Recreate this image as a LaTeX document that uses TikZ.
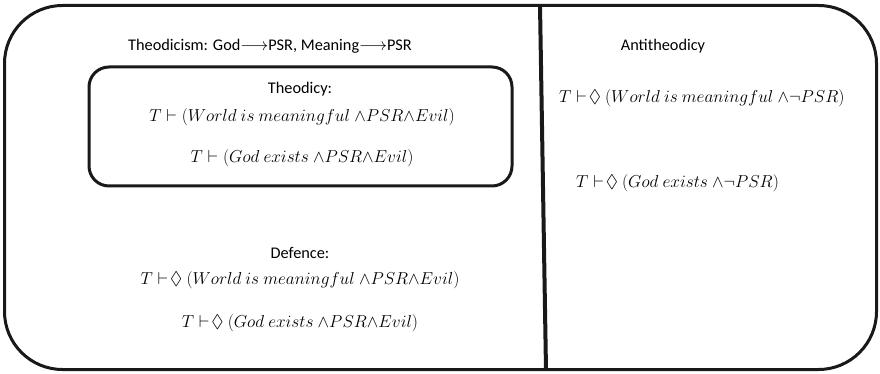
\documentclass[tikz,border=0pt]{standalone}
\usepackage{amssymb}
\usepackage{fontspec}
\setmainfont{Carlito}
\begin{document}
\begin{tikzpicture}[x=1pt,y=-1pt,
  lbl/.style={font=\fontsize{16.3}{18}\selectfont, inner sep=0pt, anchor=center},
  frm/.style={font=\fontsize{18.3}{20}\selectfont, inner sep=0pt, anchor=center},
  frmL/.style={font=\fontsize{18.3}{20}\selectfont, inner sep=0pt, anchor=west},
  boxline/.style={line width=3pt, draw=black!90}]
\useasboundingbox (0,0) rectangle (880,374);
\draw[boxline, rounded corners=58pt] (4.5,5.5) rectangle (876.5,369.5);
\draw[boxline, rounded corners=20pt] (89,67) rectangle (512,186);
\coordinate (dtop) at (540,5);
\coordinate (dbot) at (546,370);
\draw[line width=4pt, draw=black!90] (dtop) -- (dbot);

\node[lbl] (title) at (270,46) {Theodicism: God$\longrightarrow$PSR, Meaning$\longrightarrow$PSR};
\node[lbl] (th) at (300,89) {Theodicy:};
\node[frm] (th1) at (302,117) {$T \vdash (World\ is\ meaningful\ {\wedge} PSR{\wedge} Evil)$};
\node[frm] (th2) at (302,158) {$T \vdash (God\ exists\ {\wedge} PSR{\wedge} Evil)$};
\node[lbl] (df) at (300,253) {Defence:};
\node[frm] (df1) at (300,280) {$T \vdash\!\lozenge\ (World\ is\ meaningful\ {\wedge} PSR{\wedge} Evil)$};
\node[frm] (df2) at (300,323) {$T \vdash\!\lozenge\ (God\ exists\ {\wedge} PSR{\wedge} Evil)$};
\node[lbl] (at) at (663,46) {Antitheodicy};
\node[frmL] (at1) at (559,98) {$T \vdash\!\lozenge\ (World\ is\ meaningful\ {\wedge}{\neg} PSR)$};
\node[frmL] (at2) at (576,183) {$T \vdash\!\lozenge\ (God\ exists\ {\wedge}{\neg} PSR)$};
\end{tikzpicture}
\end{document}
